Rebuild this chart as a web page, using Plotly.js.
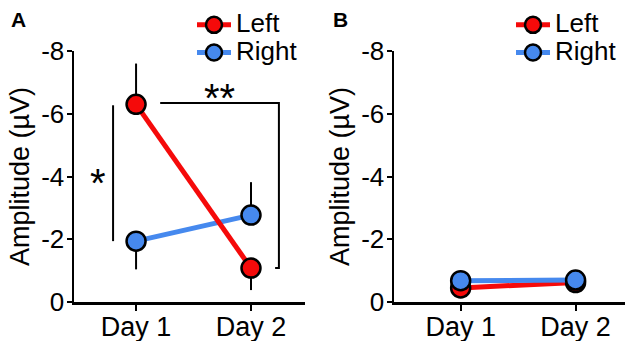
<!DOCTYPE html>
<html><head><meta charset="utf-8">
<script src="https://cdn.plot.ly/plotly-3.0.1.min.js"></script>
<style>html,body{margin:0;padding:0;background:#fff}#c{width:630px;height:341px}</style>
</head><body><div id="c"></div>
<script>
const days = ['Day 1', 'Day 2'];
const seriesNames = ['Left', 'Right'];
// Panel A (µV)
const leftA = [-6.3, -1.08];
const leftAErrPlus = [0, 0.7];
const leftAErrMinus = [1.3, 0];
const rightA = [-1.94, -2.77];
const rightAErrPlus = [0.9, 0];
const rightAErrMinus = [0, 1.05];
// Panel B (µV)
const leftB = [-0.45, -0.62];
const leftBErrPlus = [0.3, 0.3];
const rightB = [-0.68, -0.7];
const rightBErrPlus = [0.15, 0.15];
// Axis ticks
const yTickVals = [0, -2, -4, -6, -8];
const yTickText = ['0', '-2', '-4', '-6', '-8'];

const RED = '#f50a0a', BLUE = '#4689ee';
const FONT = 'Liberation Sans, Arial, sans-serif';

function tr(name, x, y, ep, em, color, xa, ya, leg, rank) {
  return {
    type: 'scatter', mode: 'lines+markers', name: name, x: x, y: y,
    xaxis: xa, yaxis: ya, legend: leg, legendrank: rank, cliponaxis: false,
    line: {color: color, width: 5},
    marker: {color: color, size: 19, line: {color: '#000', width: 2.5}},
    error_y: {type: 'data', symmetric: false, array: ep, arrayminus: em,
              color: '#000', thickness: 2, width: 0}
  };
}
const zeros = [0, 0];
const data = [
  tr(seriesNames[1], days, rightA, rightAErrPlus, rightAErrMinus, BLUE, 'x', 'y', 'legend', 2),
  tr(seriesNames[0], days, leftA, leftAErrPlus, leftAErrMinus, RED, 'x', 'y', 'legend', 1),
  tr(seriesNames[0], days, leftB, leftBErrPlus, zeros, RED, 'x2', 'y2', 'legend2', 1),
  tr(seriesNames[1], days, rightB, rightBErrPlus, zeros, BLUE, 'x2', 'y2', 'legend2', 2)
];

const yDom = [39/341, 290/341];
function xax(dom, rng) {
  return {domain: dom, type: 'category', range: rng, showline: true, linecolor: '#000',
    linewidth: 2.5, ticks: 'outside', ticklen: 6, tickwidth: 2, tickcolor: '#000',
    showgrid: false, zeroline: false, fixedrange: true, ticklabelstandoff: -7,
    tickfont: {family: FONT, size: 27, color: '#000'}};
}
function yax(dom, anchor) {
  return {domain: dom, anchor: anchor, range: [0, -8], tickvals: yTickVals, ticktext: yTickText,
    showline: true, linecolor: '#000', linewidth: 2.5, ticks: 'outside', ticklen: 5,
    tickwidth: 2, tickcolor: '#000', showgrid: false, zeroline: false, ticklabelstandoff: -3,
    tickfont: {family: FONT, size: 26, color: '#000'},
    title: {text: 'Amplitude (µV)', font: {family: FONT, size: 27, color: '#000'}, standoff: 4}};
}
function legendCfg(x) {
  return {x: x, y: 1 - 6/341, xanchor: 'left', yanchor: 'top', bgcolor: 'rgba(0,0,0,0)',
    font: {family: FONT, size: 19, color: '#000'}, itemwidth: 34, traceorder: 'normal'};
}
const layout = {
  width: 630, height: 341, margin: {l: 0, r: 0, t: 0, b: 0},
  paper_bgcolor: '#fff', plot_bgcolor: '#fff', showlegend: true,
  xaxis: xax([74/630, 305/630], [-0.54, 1.47]),
  yaxis: yax(yDom, 'x'),
  xaxis2: xax([394/630, 625/630], [-0.58, 1.43]),
  yaxis2: yax(yDom, 'x2'),
  legend: legendCfg(192/630),
  legend2: legendCfg(511/630),
  shapes: [
    {type: 'line', xref: 'x', yref: 'y', x0: -0.2, x1: -0.2, y0: -6.27, y1: -1.94, line: {color: '#000', width: 2}},
    {type: 'path', xref: 'x', yref: 'y', path: 'M 0.21 -6.34 L 1.243 -6.34 L 1.243 -1.08 L 1.21 -1.08', line: {color: '#000', width: 2}}
  ],
  annotations: [
    {text: '<b>A</b>', xref: 'paper', yref: 'paper', x: 9/630, y: 1 - 20/341, xanchor: 'left', yanchor: 'middle', showarrow: false, font: {family: FONT, size: 21, color: '#000'}},
    {text: '<b>B</b>', xref: 'paper', yref: 'paper', x: 331/630, y: 1 - 20/341, xanchor: 'left', yanchor: 'middle', showarrow: false, font: {family: FONT, size: 21, color: '#000'}},
    {text: '*', xref: 'x', yref: 'y', x: -0.33, y: -3.8, yanchor: 'middle', showarrow: false, font: {family: FONT, size: 40, color: '#000'}},
    {text: '**', xref: 'x', yref: 'y', x: 0.73, y: -6.5, yanchor: 'middle', showarrow: false, font: {family: FONT, size: 40, color: '#000'}}
  ]
};
data.forEach(t => { t.name = '<span style="font-size:26px">' + t.name + '</span>'; });
Plotly.newPlot('c', data, layout, {staticPlot: true});
</script></body></html>
